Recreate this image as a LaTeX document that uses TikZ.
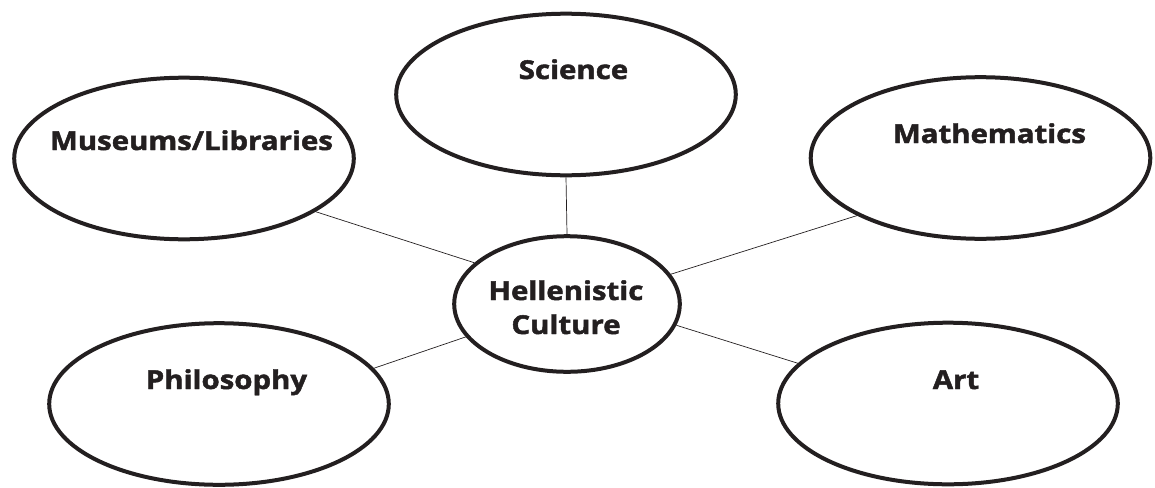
\documentclass[tikz,border=0pt]{standalone}
\usepackage{fontspec}
\setmainfont{Open Sans}
\newfontfamily\lblfont{Open Sans}[FakeStretch=1.13, FakeBold=1.8]
\usetikzlibrary{shapes.geometric}
\definecolor{ink}{RGB}{35,31,32}
\begin{document}
\begin{tikzpicture}[x=1pt,y=-1pt,
  bubble/.style={ellipse, draw=ink, line width=4pt, inner sep=0pt,
    minimum width=339.6pt, minimum height=161.6pt},
  hub/.style={bubble, minimum width=225.6pt, minimum height=135.6pt},
  lbl/.style={anchor=base, text=ink, font=\lblfont\fontsize{26}{34}\selectfont\bfseries, inner sep=0pt},
  link/.style={draw=ink, line width=0.7pt}
]
\useasboundingbox (0,0) rectangle (1155,487);
\node[bubble] (mus) at (184,158.5) {};
\node[bubble] (sci) at (566,94.5) {};
\node[bubble] (mat) at (980.5,158) {};
\node[bubble] (phi) at (219,404) {};
\node[bubble] (art) at (948,403.5) {};
\node[hub] (hel) at (567,304) {};

\node[lbl] (musT) at (191.5,150) {Museums/Libraries};
\node[lbl] (sciT) at (573.5,79) {Science};
\node[lbl] (matT) at (989.5,143) {Mathematics};
\node[lbl] (phiT) at (226.5,389) {Philosophy};
\node[lbl] (artT) at (956,389) {Art};
\node[lbl] (helT1) at (566,300) {Hellenistic};
\node[lbl] (helT2) at (566,334) {Culture};

\draw[link] (sci.-90) -- (hel.90);
\draw[link] (mus.-22.3) -- (hel.156);
\draw[link] (mat.205.6) -- (hel.16.3);
\draw[link] (phi.13.7) -- (hel.198);
\draw[link] (art.165) -- (hel.-11.7);
\end{tikzpicture}
\end{document}
